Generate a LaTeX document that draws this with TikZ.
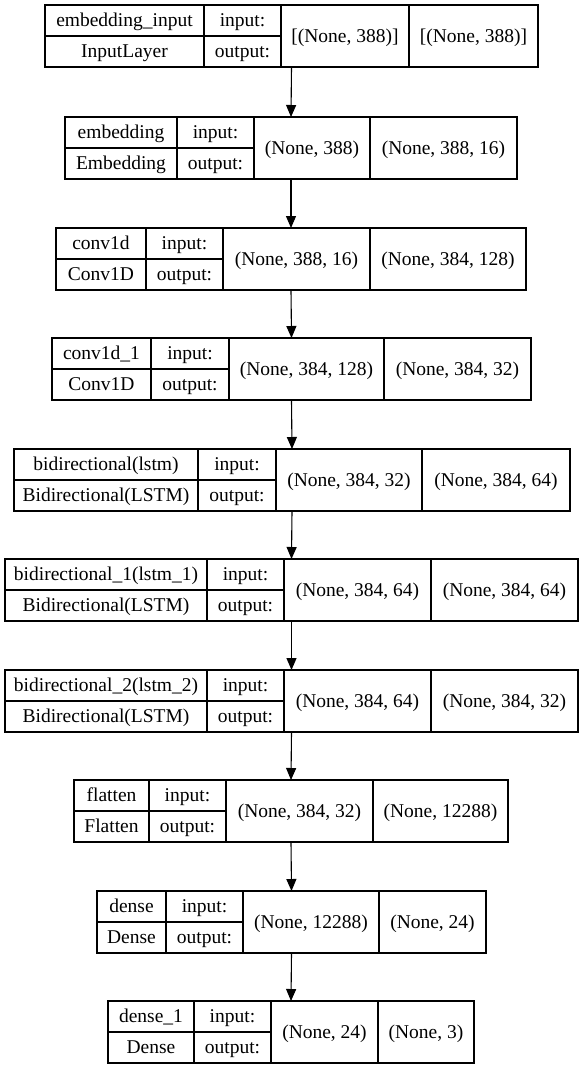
\documentclass[tikz,border=0pt]{standalone}
\usepackage{fontspec}
\setmainfont{Liberation Serif}
\newfontfamily\layerfont{Liberation Serif}
\usepackage{tikz}
\usetikzlibrary{arrows.meta, positioning}
\tikzset{
	layerbox/.style={draw, line width=1.1pt, inner sep=0pt, outer sep=0pt},
	cellline/.style={line width=1.1pt},
	celltext/.style={font=\layerfont\fontsize{19.5}{21}\selectfont, anchor=base, inner sep=0pt},
	flowarrow/.style={line width=1.1pt, -{Triangle[length=12pt,width=10pt]}}
}

\begin{document}
\begin{tikzpicture}[x=1pt, y=-1pt]
      \useasboundingbox (0,0) rectangle (583,1069);
      % one box per layer: id/top/x0/x1/x2/x3/x4/name/type/in/out
      \foreach \id/\y/\a/\b/\c/\d/\e/\nm/\ty/\shin/\shout in {
        1/5/45/204/281/409/538/embedding\_input/InputLayer/{[(None, 388)]}/{[(None, 388)]},
        2/117/65/177/254/370/517/embedding/Embedding/{(None, 388)}/{(None, 388, 16)},
        3/228/56/146/223/370/526/conv1d/Conv1D/{(None, 388, 16)}/{(None, 384, 128)},
        4/338/52/151/229/384/531/conv1d\_1/Conv1D/{(None, 384, 128)}/{(None, 384, 32)},
        5/449/14/198/276/422/570/bidirectional(lstm)/Bidirectional(LSTM)/{(None, 384, 32)}/{(None, 384, 64)},
        6/559/5/207/284/431/578/bidirectional\_1(lstm\_1)/Bidirectional(LSTM)/{(None, 384, 64)}/{(None, 384, 64)},
        7/670/5/207/284/431/578/bidirectional\_2(lstm\_2)/Bidirectional(LSTM)/{(None, 384, 64)}/{(None, 384, 32)},
        8/780/74/149/226/373/508/flatten/Flatten/{(None, 384, 32)}/{(None, 12288)},
        9/891/97/166/243/379/486/dense/Dense/{(None, 12288)}/{(None, 24)},
        10/1001/108/194/271/378/474/dense\_1/Dense/{(None, 24)}/{(None, 3)}} {
        \node[layerbox, minimum width={(\e-\a)*1pt}, minimum height=62pt] (b\id) at ({(\a+\e)/2},{\y+31}) {};
        \draw[cellline] (\b,\y) -- (\b,{\y+62}) (\c,\y) -- (\c,{\y+62}) (\d,\y) -- (\d,{\y+62})
          (\a,{\y+31}) -- (\c,{\y+31});
        \node[celltext] (b\id-name) at ({(\a+\b)/2},{\y+21.5}) {\nm};
        \node[celltext] (b\id-type) at ({(\a+\b)/2},{\y+52}) {\ty};
        \node[celltext] (b\id-inlbl) at ({(\b+\c)/2},{\y+21.5}) {input:};
        \node[celltext] (b\id-outlbl) at ({(\b+\c)/2},{\y+52}) {output:};
        \node[celltext] (b\id-in) at ({(\c+\d)/2},{\y+37}) {\shin};
        \node[celltext] (b\id-out) at ({(\d+\e)/2},{\y+37}) {\shout};
      }
      \foreach \i [evaluate=\i as \j using int(\i+1)] in {1,...,9}
        \draw[flowarrow] (b\i.south) -- (b\j.north);
    \end{tikzpicture}
\end{document}
